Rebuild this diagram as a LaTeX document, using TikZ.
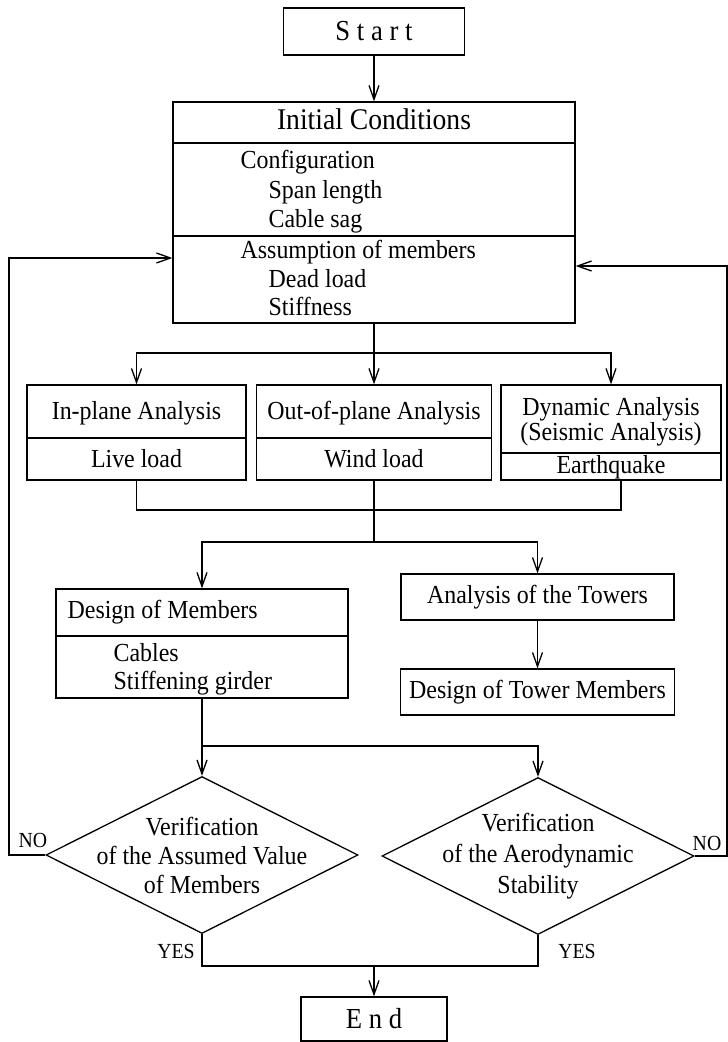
\documentclass[tikz,border=0pt]{standalone}
\usepackage{fontspec}
\setmainfont{Liberation Serif}[FakeStretch=0.92]
\usetikzlibrary{arrows.meta,shapes.geometric}

\begin{document}
\begin{tikzpicture}[x=1pt, y=-1pt, line width=1.3pt,
    >={Straight Barb[length=14pt,width=10pt]},
    blk/.style={draw, rectangle, inner sep=0pt},
    txt/.style={inner sep=0pt, font=\fontsize{26}{29}\selectfont},
    lbl/.style={inner sep=0pt, font=\fontsize{21.5}{24}\selectfont},
    dia/.style={draw, diamond, inner sep=0pt, minimum width=312pt, minimum height=157pt}]

    \useasboundingbox (0,0) rectangle (728,1042);

    % top
    \node[blk, minimum width=181pt, minimum height=47pt, font=\fontsize{29}{30}\selectfont] (start) at (374,31.5) {S t a r t};
    \node[blk, minimum width=402pt, minimum height=221pt] (ic) at (374,212.5) {};
    \draw (ic.west |- 0,143) -- (ic.east |- 0,143);
    \draw (ic.west |- 0,236) -- (ic.east |- 0,236);
    \node[txt, anchor=base, font=\fontsize{30}{30}\selectfont] (ictitle) at (374,129) {Initial Conditions};
    \node[txt, anchor=base west] (conf) at (240,168) {Configuration};
    \node[txt, anchor=base west] (span) at (268,198) {Span length};
    \node[txt, anchor=base west] (sag) at (268,227) {Cable sag};
    \node[txt, anchor=base west] (assume) at (240,258) {Assumption of members};
    \node[txt, anchor=base west] (dead) at (268,287) {Dead load};
    \node[txt, anchor=base west] (stiff) at (268,315) {Stiffness};
    \path[->] (start) edge (ic);

    % analyses
    \node[blk, minimum width=219pt, minimum height=95pt] (inpl) at (136.5,432.5) {};
    \draw (inpl.west |- 0,438) -- (inpl.east |- 0,438);
    \node[txt, anchor=base] at (136.5,419) {In-plane Analysis};
    \node[txt, anchor=base] at (136.5,467) {Live load};
    \node[blk, minimum width=235pt, minimum height=95pt] (outpl) at (374,432.5) {};
    \draw (outpl.west |- 0,438) -- (outpl.east |- 0,438);
    \node[txt, anchor=base] at (374,419) {Out-of-plane Analysis};
    \node[txt, anchor=base] at (374,467) {Wind load};
    \node[blk, minimum width=220pt, minimum height=95pt] (dyn) at (611,432.5) {};
    \draw (dyn.west |- 0,453) -- (dyn.east |- 0,453);
    \node[txt, anchor=base] at (611,415) {Dynamic Analysis};
    \node[txt, anchor=base] at (611,440) {(Seismic Analysis)};
    \node[txt, anchor=base] at (611,473) {Earthquake};

    \coordinate (br1) at (374,353);
    \draw (ic) -- (br1);
    \draw[->] (br1) -| (inpl);
    \draw[->] (br1) -- (outpl);
    \draw[->] (br1) -| (dyn);

    % members and towers
    \node[blk, minimum width=292pt, minimum height=109pt] (dm) at (202,643.5) {};
    \draw (dm.west |- 0,636) -- (dm.east |- 0,636);
    \node[txt, anchor=base west] at (67,618) {Design of Members};
    \node[txt, anchor=base west] at (113,661) {Cables};
    \node[txt, anchor=base west] at (113,689) {Stiffening girder};
    \node[blk, txt, minimum width=273pt, minimum height=46pt] (tw) at (537.5,597) {Analysis of the Towers};
    \node[blk, txt, minimum width=274pt, minimum height=46pt] (twm) at (537.5,692) {Design of Tower Members};

    \coordinate (jn1) at (374,510);
    \coordinate (br2) at (374,542);
    \draw (inpl.south) |- (jn1) -| ([xshift=10pt]dyn.south);
    \draw (outpl) -- (br2);
    \draw[->] (br2) -| (dm);
    \draw[->] (br2) -| (tw);
    \path[->] (tw) edge (twm);

    % checks
    \node[dia] (v1) at (202,855) {};
    \node[txt, align=center] at (v1) {Verification\\of the Assumed Value\\of Members};
    \node[dia] (v2) at (538,856) {};
    \node[txt, align=center, font=\fontsize{26}{31}\selectfont] at (v2) {Verification\\of the Aerodynamic\\Stability};

    \coordinate (br3) at (202,746);
    \draw (dm) -- (br3);
    \draw[->] (br3) -- (v1);
    \draw[->] (br3) -| (v2);

    \coordinate (fbL) at (9,258);
    \coordinate (fbR) at (727,266);
    \draw[->] (v1.west) -| (fbL) -- (ic.west |- fbL);
    \draw[->] (v2.east) -| (fbR) -- (ic.east |- fbR);
    \node[lbl] (no1) at (33,840) {NO};
    \node[lbl] (no2) at (707,843) {NO};

    % end
    \node[blk, minimum width=146pt, minimum height=44pt, font=\fontsize{29}{30}\selectfont] (end) at (374,1019) {E n d};
    \coordinate (jn2) at (374,966);
    \draw (v1.south) |- (jn2);
    \draw (v2.south) |- (jn2);
    \draw[->] (jn2) -- (end);
    \node[lbl] (yes1) at (176,951) {YES};
    \node[lbl] (yes2) at (577,951) {YES};
\end{tikzpicture}
\end{document}
